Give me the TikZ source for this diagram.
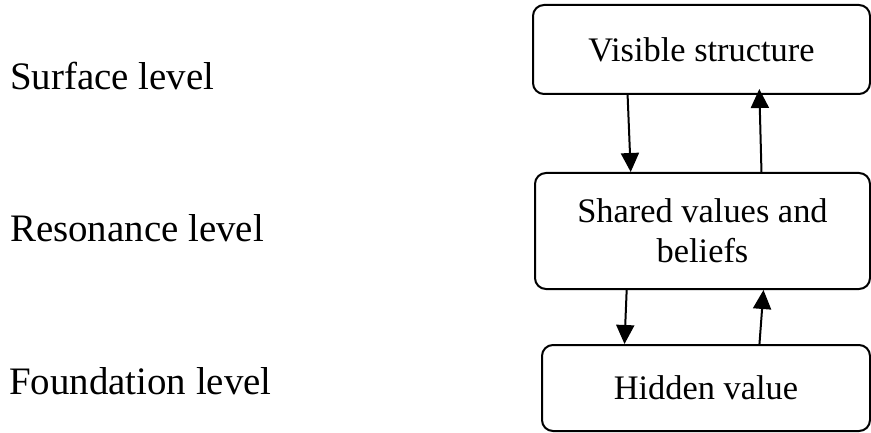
\documentclass[tikz,border=0pt]{standalone}
\usepackage{fontspec}
\setmainfont{Liberation Serif}
\usetikzlibrary{arrows.meta,calc}
\tikzset{
  lvl/.style={anchor=base west,inner sep=0pt,font=\fontsize{38.9}{44}\selectfont},
  box/.style={draw,line width=2pt,rounded corners=11pt,inner sep=0pt,align=center,
    font=\fontsize{34.4}{40}\selectfont},
  conn/.style={line width=2pt,arrows={-Triangle[length=19pt,width=18pt]}}}
\begin{document}
\begin{tikzpicture}[x=1pt,y=1pt]
\useasboundingbox (0,0) rectangle (871,432);
\node[lvl] (surf) at (10,342) {Surface level};
\node[lvl] (reso) at (10,190) {Resonance level};
\node[lvl] (found) at (9,38) {Foundation level};
\node[box,minimum width=337pt,minimum height=89pt] (vis) at (701.5,382.5) {\raisebox{-2pt}{Visible structure}};
\node[box,minimum width=335pt,minimum height=116pt] (sh) at (702.5,201) {Shared values and\\beliefs};
\node[box,minimum width=328pt,minimum height=86pt] (hid) at (706,44) {\raisebox{-3pt}{Hidden value}};
\draw[conn] ($(vis.south west)!0.282!(vis.south east)$) -- ($(sh.north west)!0.287!(sh.north east)$);
\draw[conn,shorten >=-6pt] ($(sh.north west)!0.675!(sh.north east)$) -- ($(vis.south west)!0.671!(vis.south east)$);
\draw[conn] ($(sh.south west)!0.275!(sh.south east)$) -- ($(hid.north west)!0.253!(hid.north east)$);
\draw[conn] ($(hid.north west)!0.662!(hid.north east)$) -- ($(sh.south west)!0.681!(sh.south east)$);
\end{tikzpicture}
\end{document}
